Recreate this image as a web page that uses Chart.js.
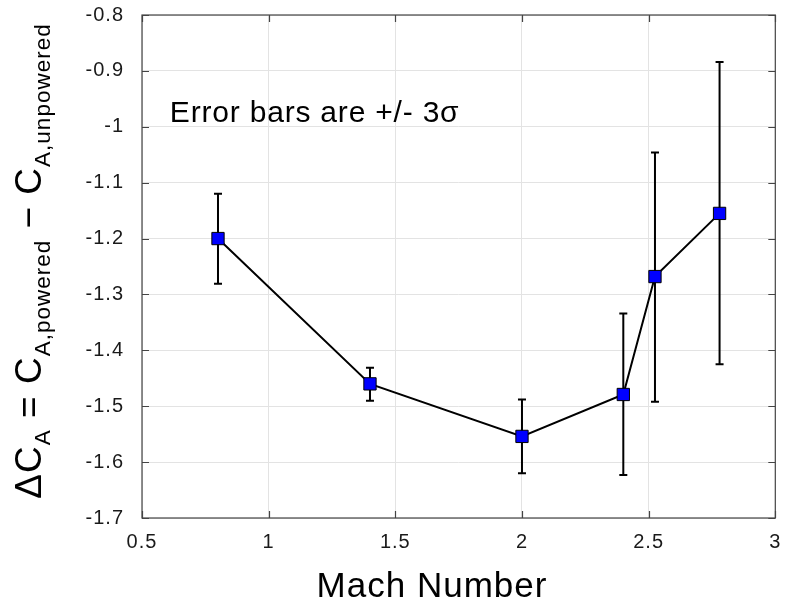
<!DOCTYPE html>
<html>
<head>
<meta charset="utf-8">
<script src="https://cdn.jsdelivr.net/npm/chart.js@4.4.1/dist/chart.umd.min.js"></script>
<style>
html,body{margin:0;padding:0;background:#fff;}
#wrap{width:785px;height:599px;}
</style>
</head>
<body>
<div id="wrap"><canvas id="c" width="785" height="599"></canvas></div>
<script>
// ---- data ----
const machNumber = [0.8, 1.4, 2.0, 2.4, 2.525, 2.78];
const deltaCA    = [-1.2, -1.46, -1.554, -1.479, -1.268, -1.155];
const errLow     = [-1.281, -1.49, -1.62, -1.623, -1.492, -1.425];
const errHigh    = [-1.12, -1.431, -1.488, -1.334, -1.046, -0.884];
const xTicks = [0.5, 1, 1.5, 2, 2.5, 3];
const yTicks = [-0.8, -0.9, -1, -1.1, -1.2, -1.3, -1.4, -1.5, -1.6, -1.7];
const noteText = 'Error bars are +/- 3\u03C3';
const noteX = 0.61, noteY = -0.992;
const xTitle = 'Mach Number';

const FONT = '"Liberation Sans", Arial, Helvetica, sans-serif';
const AXIS_COLOR = '#444444';
const TEXT_COLOR = '#1a1a1a';

const points = machNumber.map((m, i) => ({x: m, y: deltaCA[i]}));

const framePlugin = {
  id: 'frame',
  beforeDraw(chart) {
    if ('letterSpacing' in chart.ctx) chart.ctx.letterSpacing = '1px';
  },
  beforeDatasetsDraw(chart) {
    const {ctx, scales: {x, y}} = chart;
    ctx.save();
    ctx.strokeStyle = '#000';
    ctx.lineWidth = 2;
    machNumber.forEach((m, i) => {
      const px = x.getPixelForValue(m);
      const y1 = y.getPixelForValue(errLow[i]);
      const y2 = y.getPixelForValue(errHigh[i]);
      const cap = 4;
      ctx.beginPath();
      ctx.moveTo(px, y1); ctx.lineTo(px, y2);
      ctx.moveTo(px - cap, y1); ctx.lineTo(px + cap, y1);
      ctx.moveTo(px - cap, y2); ctx.lineTo(px + cap, y2);
      ctx.stroke();
    });
    ctx.restore();
  },
  afterDraw(chart) {
    const {ctx, chartArea: a, scales: {x, y}} = chart;
    const hasLS = 'letterSpacing' in ctx;
    ctx.save();
    ctx.strokeStyle = AXIS_COLOR;
    ctx.lineWidth = 1.2;
    ctx.strokeRect(a.left, a.top, a.right - a.left, a.bottom - a.top);
    const tl = 7;
    ctx.beginPath();
    xTicks.forEach(v => {
      const px = Math.round(x.getPixelForValue(v)) + 0.5;
      ctx.moveTo(px, a.bottom); ctx.lineTo(px, a.bottom - tl);
      ctx.moveTo(px, a.top); ctx.lineTo(px, a.top + tl);
    });
    yTicks.forEach(v => {
      const py = Math.round(y.getPixelForValue(v)) + 0.5;
      ctx.moveTo(a.left, py); ctx.lineTo(a.left + tl, py);
      ctx.moveTo(a.right, py); ctx.lineTo(a.right - tl, py);
    });
    ctx.stroke();

    // annotation
    ctx.fillStyle = '#000';
    if (hasLS) ctx.letterSpacing = '0.8px';
    ctx.font = '30px ' + FONT;
    ctx.textAlign = 'left';
    ctx.textBaseline = 'alphabetic';
    ctx.fillText(noteText, x.getPixelForValue(noteX), y.getPixelForValue(noteY));

    // x-axis title
    if (hasLS) ctx.letterSpacing = '1px';
    ctx.font = '35px ' + FONT;
    ctx.textAlign = 'center';
    ctx.fillText(xTitle, 432, 597);

    // y-axis title with subscripts
    if (hasLS) ctx.letterSpacing = '1px';
    ctx.textAlign = 'left';
    const big = 37, small = 22.5;
    const parts = [
      {t: '\u0394C', s: false},
      {t: 'A', s: true},
      {t: ' = C', s: false},
      {t: 'A,powered', s: true},
      {t: ' \u2212 C', s: false},
      {t: 'A,unpowered', s: true}
    ];
    let total = 0;
    parts.forEach(p => {
      ctx.font = (p.s ? small : big) + 'px ' + FONT;
      p.w = ctx.measureText(p.t).width;
      total += p.w;
    });
    ctx.translate(41, 261);
    ctx.rotate(-Math.PI / 2);
    let cx = -total / 2;
    parts.forEach(p => {
      ctx.font = (p.s ? small : big) + 'px ' + FONT;
      ctx.fillText(p.t, cx, p.s ? 9 : 0);
      cx += p.w;
    });
    ctx.restore();
  }
};

new Chart(document.getElementById('c'), {
  type: 'line',
  data: {
    datasets: [{
      data: points,
      borderColor: '#000',
      borderWidth: 2,
      backgroundColor: '#0000ff',
      pointStyle: 'rect',
      pointRadius: 8.7,
      pointHoverRadius: 8.7,
      pointBackgroundColor: '#0000ff',
      pointBorderColor: '#000',
      pointBorderWidth: 1,
      tension: 0,
      fill: false
    }]
  },
  options: {
    responsive: false,
    animation: false,
    events: [],
    layout: {padding: {left: 0, right: 6, top: 15, bottom: 0}},
    plugins: {legend: {display: false}, tooltip: {enabled: false}},
    scales: {
      x: {
        type: 'linear',
        min: 0.5, max: 3,
        afterBuildTicks: s => { s.ticks = xTicks.map(v => ({value: v})); },
        afterFit: s => { s.height = 81; s.paddingLeft = 0; s.paddingRight = 0; },
        grid: {color: '#e3e3e3', lineWidth: 1, drawTicks: false},
        border: {display: false},
        ticks: {
          padding: 12,
          color: TEXT_COLOR,
          font: {family: FONT, size: 20},
          maxRotation: 0,
          callback: v => String(Math.round(v * 10) / 10)
        },
        title: {display: false}
      },
      y: {
        type: 'linear',
        min: -1.7, max: -0.8,
        afterBuildTicks: s => { s.ticks = yTicks.map(v => ({value: v})); },
        afterFit: s => { s.width = 142; s.paddingTop = 0; s.paddingBottom = 0; },
        grid: {color: '#e3e3e3', lineWidth: 1, drawTicks: false},
        border: {display: false},
        ticks: {
          padding: 18,
          color: TEXT_COLOR,
          font: {family: FONT, size: 20},
          callback: v => String(Math.round(v * 10) / 10)
        }
      }
    }
  },
  plugins: [framePlugin]
});
</script>
</body>
</html>
